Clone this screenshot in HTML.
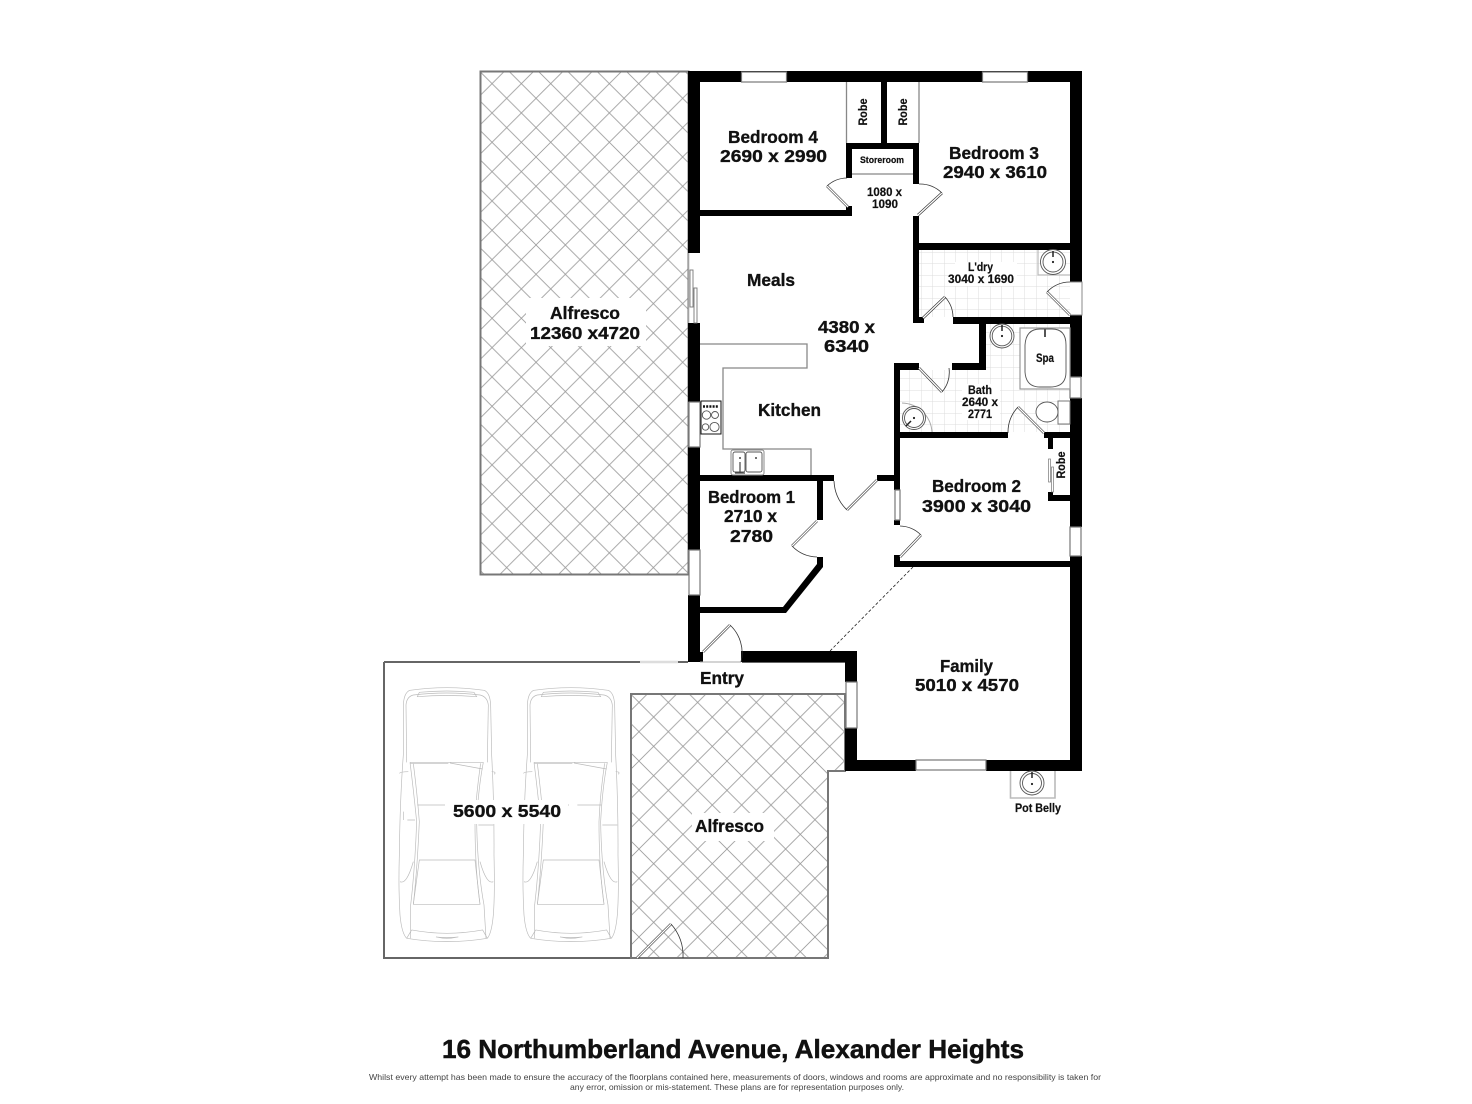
<!DOCTYPE html>
<html><head><meta charset="utf-8"><title>Floor plan</title>
<style>
html,body{margin:0;padding:0;background:#fff}
svg{display:block}
text{font-family:"Liberation Sans",sans-serif;font-weight:700;fill:#111;text-anchor:middle;stroke:#111;stroke-width:.2}
.l{font-size:17.5px;stroke-width:.35}.m{font-size:11.5px}
.win{fill:#fff;stroke:#777;stroke-width:1.2}
.lf{fill:none;stroke:#333;stroke-width:2.6}
.lw{fill:none;stroke:#fff;stroke-width:1.3}
.arc{fill:none;stroke:#333;stroke-width:.8}
.g{fill:none;stroke:#888;stroke-width:1.3}
.fx{fill:none;stroke:#555;stroke-width:.9}
.car{fill:none;stroke:#bbb;stroke-width:2}
</style></head>
<body>
<svg width="1472" height="1104" viewBox="0 0 1472 1104" xmlns="http://www.w3.org/2000/svg">
<defs>
<pattern id="h1" patternUnits="userSpaceOnUse" x="506.7" y="98.3" width="29.33" height="29.33">
<path d="M-1 -1L30.33 30.33M-1 30.33L30.33 -1" stroke="#9a9a9a" stroke-width=".8" fill="none"/>
</pattern>
<pattern id="h2" patternUnits="userSpaceOnUse" x="668.3" y="731.7" width="29.33" height="29.33">
<path d="M-1 -1L30.33 30.33M-1 30.33L30.33 -1" stroke="#9a9a9a" stroke-width=".8" fill="none"/>
</pattern>
<pattern id="t" patternUnits="userSpaceOnUse" x="921" y="252" width="11.5" height="11.5">
<path d="M0 0H11.5M0 0V11.5" stroke="#dcdcdc" stroke-width="1" fill="none"/>
</pattern>
<g id="car" class="car">
<path d="M70 300L70 150Q72 112 90 106Q200 90 312 106Q330 112 332 150L335 300Q343 450 342 600Q345 720 340 780Q335 835 322 850Q200 870 80 850Q65 835 60 780Q55 700 58 600Q60 430 70 300Z"/>
<path d="M78 150Q80 125 100 120Q200 108 300 120Q322 125 325 150"/>
<path d="M112 125L118 112Q200 104 282 112L290 125Q200 118 112 125Z"/>
<path d="M78 150L80 322M325 150L322 322"/>
<path d="M90 322L310 322M90 326L205 326M210 324L308 342"/>
<path d="M90 322Q100 400 110 500Q105 640 92 750L92 850M100 325Q112 420 118 500Q112 640 100 748"/>
<path d="M310 322Q295 400 290 500Q292 640 312 750L318 850M302 325Q288 420 285 500Q285 640 300 748"/>
<path d="M118 615L285 615L300 748L100 748Z"/>
<path d="M112 450H195M220 450H292" />
<path d="M58 355Q62 350 85 350M335 350Q350 350 343 358"/>
<path d="M95 825Q200 845 308 825L322 850M95 825L80 850"/>
<path d="M168 846Q200 854 235 846Q200 850 168 846Z"/>
<path d="M70 470V495M82 495H105M60 680Q80 690 100 620M340 680Q320 690 300 620M295 510H340"/>
</g>
</defs>

<!-- Alfresco hatches -->
<rect x="480.5" y="71.5" width="208" height="503" fill="url(#h1)" stroke="#777" stroke-width="2"/>
<rect x="526" y="298" width="120" height="48" fill="#fff"/>

<!-- Garage -->
<path d="M384 662H688M742 662H845M384 662V958H828" fill="none" stroke="#666" stroke-width="2"/>
<path d="M640 662H678" stroke="#ddd" stroke-width="2.4"/>
<path d="M631 694H845V771H828V958H631Z" fill="url(#h2)" stroke="#777" stroke-width="2"/>
<rect x="692" y="813" width="82" height="28" fill="#fff"/>
<use href="#car" transform="translate(380 655) scale(.3333)"/>
<use href="#car" transform="translate(504 655) scale(.3333)"/>
<rect x="446" y="800" width="122" height="24" fill="#fff"/>

<!-- tiled floors -->
<rect x="919" y="250" width="151" height="67" fill="url(#t)"/>
<path d="M986 324H1070V432H900V370H986Z" fill="url(#t)"/>
<rect x="955" y="262" width="62" height="24" fill="#fff"/>
<rect x="962" y="384" width="38" height="36" fill="#fff"/>

<!-- walls -->
<g fill="#000">
<rect x="688" y="71" width="394" height="11"/>
<rect x="688" y="71" width="12" height="182"/>
<rect x="688" y="323" width="12" height="79"/>
<rect x="688" y="447" width="12" height="103"/>
<rect x="688" y="595" width="12" height="67"/>
<rect x="1070" y="71" width="12" height="211"/>
<rect x="1070" y="315" width="12" height="62"/>
<rect x="1070" y="398" width="12" height="129"/>
<rect x="1070" y="556" width="12" height="215"/>
<rect x="881" y="82" width="6" height="61"/>
<rect x="846" y="143" width="73" height="6"/>
<rect x="846" y="143" width="6" height="35"/>
<rect x="913" y="143" width="6" height="41"/>
<rect x="700" y="210" width="152" height="6"/>
<rect x="846" y="206" width="6" height="10"/>
<rect x="913" y="216" width="6" height="107"/>
<rect x="913" y="317" width="11" height="6"/>
<rect x="919" y="243" width="151" height="7"/>
<rect x="953" y="317" width="129" height="7"/>
<rect x="979" y="323" width="7" height="47"/>
<rect x="952" y="363" width="34" height="7"/>
<rect x="894" y="363" width="25" height="7"/>
<rect x="894" y="363" width="6" height="127"/>
<rect x="894" y="520" width="6" height="5"/>
<rect x="894" y="555" width="6" height="12"/>
<rect x="894" y="561" width="176" height="6"/>
<rect x="894" y="432" width="114" height="6"/>
<rect x="1044" y="432" width="26" height="6"/>
<rect x="1048" y="438" width="5" height="11"/>
<rect x="1048" y="492" width="5" height="9"/>
<rect x="1048" y="495" width="22" height="6"/>
<rect x="700" y="475" width="134" height="6"/>
<rect x="877" y="475" width="17" height="6"/>
<rect x="817" y="481" width="6" height="39"/>
<path d="M817 557H823V567L786 613H700V607H783L817 564Z"/>
<rect x="741" y="651" width="116" height="11"/>
<rect x="845" y="651" width="12" height="31"/>
<rect x="845" y="728" width="12" height="43"/>
<rect x="845" y="760" width="71" height="11"/>
<rect x="986" y="760" width="96" height="11"/>
<rect x="700" y="652" width="3" height="10"/>
</g>

<!-- windows -->
<rect class="win" x="741.5" y="72" width="45" height="10"/>
<rect class="win" x="982.5" y="72" width="45" height="10"/>
<rect class="win" x="689" y="402" width="11" height="45"/>
<rect class="win" x="689" y="550" width="11" height="45"/>
<rect class="win" x="1070" y="377" width="11" height="21"/>
<rect class="win" x="1070" y="527" width="11" height="29"/>
<rect class="win" x="895" y="490" width="5" height="30"/>
<rect class="win" x="846" y="682" width="11" height="46"/>
<rect class="win" x="916" y="760" width="70" height="10"/>
<path d="M1070 282H1082V315H1070" fill="#fff" stroke="#888" stroke-width="1"/>
<path d="M689 253V323" stroke="#ccc" stroke-width="1"/>
<rect x="690" y="270" width="3" height="37" fill="#fff" stroke="#777" stroke-width=".9"/>
<rect x="694" y="288" width="3" height="35" fill="#fff" stroke="#777" stroke-width=".9"/>
<path d="M700 662H741" stroke="#aaa" stroke-width="1"/>

<!-- thin room lines -->
<path class="g" d="M846.5 82V143M919 82V143M852 174H913"/>
<path class="g" d="M700 344H807V368H723V449H811V475"/>

<!-- doors -->
<path class="lf" d="M848 207L827 186"/><path class="lw" d="M848 207L827 186"/><path class="arc" d="M827 186A30 30 0 0 1 847 178"/>
<path class="lf" d="M918 215L942 193"/><path class="lw" d="M918 215L942 193"/><path class="arc" d="M942 193A32 32 0 0 0 919 184"/>
<path class="lf" d="M923 318L945 297"/><path class="lw" d="M923 318L945 297"/><path class="arc" d="M945 297A30 30 0 0 1 953 317"/>
<path class="lf" d="M1070 315L1047 292"/><path class="lw" d="M1070 315L1047 292"/><path class="arc" d="M1047 292A32 32 0 0 1 1070 282"/>
<path class="lf" d="M919 368L942 392"/><path class="lw" d="M919 368L942 392"/><path class="arc" d="M942 392A31 31 0 0 0 949 368"/>
<path class="lf" d="M1044 433L1018 407"/><path class="lw" d="M1044 433L1018 407"/><path class="arc" d="M1018 407A37 37 0 0 0 1008 433"/>
<path class="lf" d="M877 480L847 510"/><path class="lw" d="M877 480L847 510"/><path class="arc" d="M847 510A43 43 0 0 1 834 481"/>
<path class="lf" d="M817 521L792 546"/><path class="lw" d="M817 521L792 546"/><path class="arc" d="M792 546A36 36 0 0 0 817 557"/>
<path class="lf" d="M900 557L921 535"/><path class="lw" d="M900 557L921 535"/><path class="arc" d="M921 535A31 31 0 0 0 900 526"/>
<path class="lf" d="M703 652L730 625"/><path class="lw" d="M703 652L730 625"/><path class="arc" d="M730 625A38 38 0 0 1 741 662"/>
<path class="lf" d="M637 958L671 924"/><path class="lw" d="M637 958L671 924"/><path class="arc" d="M671 924A47 47 0 0 1 683 958"/>

<!-- dashed -->
<path d="M913 567L830 651" stroke="#222" stroke-width=".8" stroke-dasharray="3 2" fill="none"/>

<!-- robe slider bedroom 2 -->
<rect x="1048.5" y="459" width="2" height="23" fill="#fff" stroke="#777" stroke-width=".7"/>
<rect x="1051.5" y="467" width="2" height="25" fill="#fff" stroke="#777" stroke-width=".7"/>

<!-- cooktop -->
<rect x="701" y="401" width="20" height="33" fill="#fff" stroke="#111" stroke-width="1"/>
<path d="M703 406.5H719" stroke="#111" stroke-width="2.6" stroke-dasharray="2 1.2"/>
<circle class="fx" cx="706.5" cy="415" r="4.2"/><circle class="fx" cx="715" cy="415" r="3.5"/>
<circle class="fx" cx="705.5" cy="427" r="3.2"/><circle class="fx" cx="714.5" cy="427" r="4.6"/>
<!-- sink -->
<rect x="731" y="450" width="33" height="25" rx="2" fill="#fff" stroke="#888" stroke-width="1"/>
<rect x="733" y="452" width="12" height="20" rx="2" class="fx"/><rect x="746" y="452" width="16" height="20" rx="2" class="fx"/>
<circle cx="740" cy="458" r="1" fill="#444"/><circle cx="756" cy="458" r="1" fill="#444"/>
<path d="M740 462V473M735 473H745" stroke="#444" stroke-width="1.2" fill="none"/>

<!-- L'dry basin -->
<path d="M1038 250V275H1070" fill="none" stroke="#bbb" stroke-width="1.2"/>
<circle class="fx" cx="1053" cy="262" r="12.5" style="fill:#fff"/><circle class="fx" cx="1053" cy="262" r="10"/>
<circle cx="1053" cy="262" r="1.1" fill="#222"/><path d="M1053 251V257" stroke="#222" stroke-width="1.5"/>
<!-- Bath basin -->
<circle class="fx" cx="1002" cy="336" r="12" style="fill:#fff"/><circle class="fx" cx="1002" cy="336" r="9.8"/>
<circle cx="1002" cy="336" r="1.1" fill="#222"/><path d="M1002 325V331" stroke="#222" stroke-width="1.5"/>
<!-- Spa -->
<rect x="1020" y="328" width="50" height="61" fill="#fff" stroke="#999" stroke-width="1.2"/>
<path d="M1025 345Q1026 329 1040 329H1052Q1066 329 1066 345V372Q1066 387 1050 387H1040Q1026 387 1025 372Z" class="fx" fill="#fff"/>
<path d="M1045 329V337" stroke="#555" stroke-width="2"/>
<!-- Corner basin -->
<path d="M902 403A31 31 0 0 1 932 432" fill="none" stroke="#aaa" stroke-width="1"/>
<circle class="fx" cx="914" cy="418" r="11.5" style="fill:#fff"/><circle class="fx" cx="914" cy="418" r="9.5"/>
<circle cx="914" cy="418" r="1.1" fill="#222"/><path d="M911 421L906 426" stroke="#222" stroke-width="1.5"/>
<!-- Toilet -->
<rect x="1058" y="401" width="12" height="23" fill="#fff" stroke="#777" stroke-width="1"/>
<ellipse class="fx" cx="1047" cy="412" rx="11" ry="10" style="fill:#fff"/>
<!-- Pot belly -->
<path d="M1010.5 771V798H1055V771" fill="none" stroke="#bbb" stroke-width="1.6"/>
<circle class="fx" cx="1032" cy="783" r="12"/><circle class="fx" cx="1032" cy="783" r="9.5"/>
<circle cx="1032" cy="784" r="1.1" fill="#222"/><path d="M1032 772V778" stroke="#222" stroke-width="1.5"/>

<!-- labels -->
<g>
<text class="l" x="773" y="143" textLength="90" lengthAdjust="spacingAndGlyphs">Bedroom 4</text>
<text class="l" x="773.5" y="162" textLength="107" lengthAdjust="spacingAndGlyphs">2690 x 2990</text>
<text class="l" x="994" y="159" textLength="90" lengthAdjust="spacingAndGlyphs">Bedroom 3</text>
<text class="l" x="995" y="178" textLength="104" lengthAdjust="spacingAndGlyphs">2940 x 3610</text>
<text class="l" x="771" y="286" textLength="48" lengthAdjust="spacingAndGlyphs">Meals</text>
<text class="l" x="846.5" y="333" textLength="57" lengthAdjust="spacingAndGlyphs">4380 x</text>
<text class="l" x="846.5" y="352" textLength="45" lengthAdjust="spacingAndGlyphs">6340</text>
<text class="l" x="789.5" y="416" textLength="63" lengthAdjust="spacingAndGlyphs">Kitchen</text>
<text class="l" x="751.5" y="503" textLength="87" lengthAdjust="spacingAndGlyphs">Bedroom 1</text>
<text class="l" x="750.5" y="522" textLength="53" lengthAdjust="spacingAndGlyphs">2710 x</text>
<text class="l" x="751.5" y="542" textLength="43" lengthAdjust="spacingAndGlyphs">2780</text>
<text class="l" x="976.5" y="492" textLength="89" lengthAdjust="spacingAndGlyphs">Bedroom 2</text>
<text class="l" x="976.5" y="512" textLength="109" lengthAdjust="spacingAndGlyphs">3900 x 3040</text>
<text class="l" x="966.5" y="672" textLength="53" lengthAdjust="spacingAndGlyphs">Family</text>
<text class="l" x="967" y="691" textLength="104" lengthAdjust="spacingAndGlyphs">5010 x 4570</text>
<text class="l" x="722" y="684" textLength="44" lengthAdjust="spacingAndGlyphs">Entry</text>
<text class="l" x="729.5" y="832" textLength="69" lengthAdjust="spacingAndGlyphs">Alfresco</text>
<text class="l" x="585" y="319" textLength="70" lengthAdjust="spacingAndGlyphs">Alfresco</text>
<text class="l" x="585" y="339" textLength="110" lengthAdjust="spacingAndGlyphs">12360 x4720</text>
<text class="l" x="507" y="817" textLength="108" lengthAdjust="spacingAndGlyphs">5600 x 5540</text>

<text class="m" x="884.5" y="196" textLength="35" lengthAdjust="spacingAndGlyphs">1080 x</text>
<text class="m" x="885" y="208" textLength="26" lengthAdjust="spacingAndGlyphs">1090</text>
<text style="font-size:9.5px" x="882" y="163" textLength="44" lengthAdjust="spacingAndGlyphs">Storeroom</text>
<text class="m" x="980.5" y="271" textLength="25" lengthAdjust="spacingAndGlyphs">L'dry</text>
<text class="m" x="981" y="283" textLength="66" lengthAdjust="spacingAndGlyphs">3040 x 1690</text>
<text class="m" x="1045" y="362" textLength="18" lengthAdjust="spacingAndGlyphs">Spa</text>
<text class="m" x="980" y="394" textLength="24" lengthAdjust="spacingAndGlyphs">Bath</text>
<text class="m" x="980" y="406" textLength="36" lengthAdjust="spacingAndGlyphs">2640 x</text>
<text class="m" x="980" y="418" textLength="24" lengthAdjust="spacingAndGlyphs">2771</text>
<text class="m" x="1038" y="812" textLength="46" lengthAdjust="spacingAndGlyphs">Pot Belly</text>
<text class="m" transform="translate(867 112) rotate(-90)" textLength="27" lengthAdjust="spacingAndGlyphs">Robe</text>
<text class="m" transform="translate(907 112) rotate(-90)" textLength="27" lengthAdjust="spacingAndGlyphs">Robe</text>
<text class="m" transform="translate(1065 465) rotate(-90)" textLength="27" lengthAdjust="spacingAndGlyphs">Robe</text>

<text style="font-size:26px;stroke-width:.5" x="733" y="1058" textLength="582" lengthAdjust="spacingAndGlyphs">16 Northumberland Avenue, Alexander Heights</text>
<text style="font-size:8.5px;font-weight:400;fill:#444;stroke:none" x="735" y="1080" textLength="732" lengthAdjust="spacingAndGlyphs">Whilst every attempt has been made to ensure the accuracy of the floorplans contained here, measurements of doors, windows and rooms are approximate and no responsibility is taken for</text>
<text style="font-size:8.5px;font-weight:400;fill:#444;stroke:none" x="737" y="1090" textLength="334" lengthAdjust="spacingAndGlyphs">any error, omission or mis-statement. These plans are for representation purposes only.</text>
</g>
</svg>
</body></html>
